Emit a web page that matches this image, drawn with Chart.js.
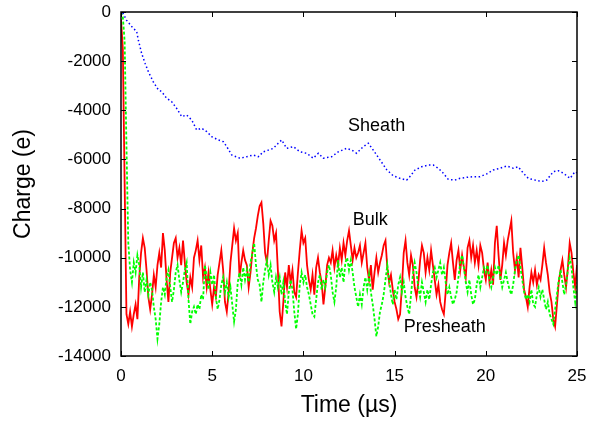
<!DOCTYPE html>
<html>
<head>
<meta charset="utf-8">
<script src="https://cdn.jsdelivr.net/npm/chart.js@4/dist/chart.umd.min.js"></script>
<style>
  html, body { margin: 0; padding: 0; background: #fff; }
  #wrap { width: 593px; height: 425px; }
</style>
</head>
<body>
<div id="wrap"><canvas id="chart"></canvas></div>
<script>
// sampling step of the bulk / presheath records (microseconds)
const sampleStep = 0.1;

const bulkValues = [
  -300, -1500, -7000, -12300, -12700, -12200, -12800, -12300, -11900, -12500,
  -10800, -9800, -9200, -9600, -10500, -11600, -12100, -11500, -10700, -11200,
  -10300, -9800, -10400, -9000, -9700, -10900, -11800, -10600, -10000, -9400,
  -9200, -10000, -9600, -10300, -9300, -10200, -11000, -11500, -10800, -11200,
  -10000, -9700, -9300, -10100, -9500, -10800, -10400, -11200, -10600, -11300,
  -11900, -11200, -11600, -10700, -10200, -9700, -10500, -11800, -12200, -11400,
  -10200, -9500, -8800, -9300, -9000, -10800, -10200, -9700, -10100, -10300,
  -11200, -10600, -9800, -9200, -8800, -8300, -7900, -7750, -8600, -9800,
  -10200, -9300, -8500, -8700, -9300, -9000, -10500, -12200, -12800, -11800,
  -10600, -11200, -10300, -11000, -10500, -11400, -11600, -10600, -9700, -8900,
  -9400, -9200, -10300, -10900, -11300, -10700, -11500, -10400, -10000, -10600,
  -11000, -11900, -11200, -10300, -10000, -10200, -9700, -10400, -9900, -10300,
  -9600, -10100, -9400, -9900, -9300, -8900, -9500, -10100, -9600, -10000,
  -9800, -9500, -10200, -9800, -9400, -10400, -10900, -10300, -11300, -10600,
  -10000, -10600, -10200, -9900, -9500, -9300, -10400, -11000, -10700, -11300,
  -11800, -12100, -12500, -12300, -11200, -9800, -9300, -10200, -10700, -9900,
  -10300, -11200, -11600, -11000, -10100, -9500, -9800, -10600, -10000, -10500,
  -9700, -10300, -10900, -11500, -11100, -11800, -12100, -12300, -11400, -10300,
  -9800, -9400, -10200, -10900, -10100, -9700, -10500, -9900, -10400, -10800,
  -9600, -9300, -10000, -9500, -10200, -9700, -10300, -9500, -9800, -10500,
  -10900, -10200, -11000, -10500, -11100, -9400, -8700, -9900, -10900, -10300,
  -9400, -9900, -9300, -8900, -8500, -9800, -10500, -10000, -10800, -9600,
  -10400, -11300, -11600, -12000, -11200, -10600, -11000, -10500, -11100, -10700,
  -10900, -10300, -9600, -10200, -10700, -11400, -11800, -12500, -12800, -11900,
  -11000, -10500, -10100, -10700, -11200, -10400, -9400, -9800, -10600, -11200,
  -10300
];

const presheathValues = [
  0, -200, -1200, -5500, -9400, -10500, -11000, -10200, -10600, -9900,
  -10300, -11200, -10600, -11400, -10900, -11500, -11000, -11300, -12000, -12500,
  -13300, -12700, -11800, -11200, -11500, -10800, -10500, -11200, -11800, -11300,
  -10600, -10300, -10900, -11400, -11000, -10500, -10200, -11700, -12700, -12200,
  -12000, -12300, -11900, -12100, -11500, -11700, -10300, -10800, -11300, -10600,
  -11100, -10700, -11600, -12100, -11700, -11100, -10800, -11400, -11000, -11600,
  -11200, -11900, -12600, -12100, -11000, -10600, -11100, -10400, -10900, -10500,
  -11000, -10200, -9800, -9400, -10300, -10900, -11100, -11800, -11000, -10500,
  -10100, -10700, -10300, -11000, -11400, -10800, -11200, -10800, -11500, -11000,
  -11800, -12300, -11400, -10900, -11300, -12200, -12900, -12300, -11100, -10600,
  -11000, -10700, -11200, -11500, -11900, -12300, -12400, -11700, -11000, -10700,
  -11300, -10900, -11200, -10600, -10300, -10700, -11400, -11800, -11200, -10100,
  -10800, -10400, -11000, -10200, -10000, -10500, -10100, -10600, -11200, -11600,
  -12000, -11500, -11900, -11200, -10800, -11300, -10700, -11400, -11900, -12500,
  -13200, -12800, -12200, -11900, -11500, -10900, -10300, -10900, -11500, -11900,
  -11300, -11700, -11100, -10800, -11400, -11000, -11600, -12000, -12300, -11500,
  -10700, -10200, -10600, -11200, -11600, -11000, -11400, -11800, -11300, -11700,
  -11100, -10600, -10400, -10800, -10500, -10200, -10700, -10400, -11000, -11500,
  -11200, -11600, -11900, -11700, -11400, -10800, -10200, -9900, -10400, -11000,
  -11400, -10900, -11500, -11900, -11700, -11100, -10700, -11200, -10800, -10400,
  -10600, -10300, -10900, -11200, -10800, -10400, -10700, -10300, -10800, -11200,
  -10900, -10600, -11000, -11300, -11500, -11100, -10500, -10100, -9900, -10400,
  -10900, -11400, -11700, -11500, -11800, -11300, -11900, -12000, -11500, -11200,
  -11600, -11300, -11700, -12100, -11800, -12300, -12500, -12700, -12100, -11500,
  -10900, -10500, -11000, -11500, -11100, -10500, -10000, -10400, -11200, -11800,
  -11000
];

const sheathTimes = [
  0.1, 0.3, 0.6, 0.86, 0.95, 1.13, 1.32, 1.5, 1.77, 2.05,
  2.23, 2.5, 2.78, 3.05, 3.33, 3.6, 3.88, 4.15, 4.42, 4.7,
  4.97, 5.34, 5.61, 5.8, 6.07, 6.52, 6.89, 7.25, 7.53, 7.8,
  8.08, 8.35, 8.62, 8.81, 9.08, 9.45, 9.81, 10.18, 10.54, 10.82,
  11.09, 11.55, 11.91, 12.37, 12.65, 12.92, 13.28, 13.56, 13.83, 14.2,
  14.57, 14.93, 15.3, 15.66, 15.84, 16.12, 16.48, 16.85, 17.12, 17.4,
  17.67, 17.94, 18.31, 18.59, 18.95, 19.32, 19.68, 20.05, 20.41, 20.78,
  21.15, 21.51, 21.78, 22.06, 22.33, 22.7, 23.06, 23.34, 23.7, 23.98,
  24.25, 24.62, 24.89, 25
];
const sheathValues = [
  -30, -330, -600, -800, -1140, -1680, -2090, -2430, -2840, -3170,
  -3240, -3510, -3650, -3920, -4260, -4190, -4400, -4800, -4730, -4870,
  -5070, -5210, -5280, -5480, -5820, -5950, -5890, -5820, -5890, -5690,
  -5620, -5550, -5340, -5210, -5550, -5480, -5690, -5750, -5950, -5750,
  -5950, -5890, -5690, -5550, -5620, -5750, -5480, -5340, -5620, -6020,
  -6420, -6670, -6770, -6840, -6700, -6430, -6300, -6230, -6230, -6360,
  -6560, -6810, -6840, -6770, -6730, -6700, -6700, -6590, -6430, -6360,
  -6270, -6360, -6300, -6560, -6770, -6840, -6900, -6840, -6500, -6460,
  -6560, -6770, -6500, -6550
];

const xTicks = [0, 5, 10, 15, 20, 25];
const yTicks = [0, -2000, -4000, -6000, -8000, -10000, -12000, -14000];

// curve labels: [text, time, charge]
const curveLabels = [
  ['Sheath', 12.45, -4640],
  ['Bulk', 12.7, -8470],
  ['Presheath', 15.5, -12820]
];

const fontFamily = '"Liberation Sans", Arial, Helvetica, sans-serif';

const bulkData = bulkValues.map((v, i) => ({ x: i * sampleStep, y: v }));
const presheathData = presheathValues.map((v, i) => ({ x: i * sampleStep, y: v }));
const sheathData = sheathValues.map((v, i) => ({ x: sheathTimes[i], y: v }));

// frame with inward ticks on all four sides, plus the curve names
const framePlugin = {
  id: 'frame',
  afterDatasetsDraw(chart) {
    const { ctx, chartArea: a, scales } = chart;
    const len = 5;
    ctx.save();
    ctx.strokeStyle = '#000';
    ctx.lineWidth = 1;
    ctx.beginPath();
    xTicks.forEach(t => {
      const px = Math.round(scales.x.getPixelForValue(t)) + 0.5;
      ctx.moveTo(px, a.bottom); ctx.lineTo(px, a.bottom - len);
      ctx.moveTo(px, a.top); ctx.lineTo(px, a.top + len);
    });
    yTicks.forEach(t => {
      const py = Math.round(scales.y.getPixelForValue(t)) + 0.5;
      ctx.moveTo(a.left, py); ctx.lineTo(a.left + len, py);
      ctx.moveTo(a.right, py); ctx.lineTo(a.right - len, py);
    });
    ctx.stroke();
    ctx.lineWidth = 1.5;
    ctx.strokeRect(a.left, a.top, a.right - a.left, a.bottom - a.top);

    ctx.fillStyle = '#000';
    ctx.font = '18px ' + fontFamily;
    ctx.textAlign = 'left';
    ctx.textBaseline = 'middle';
    curveLabels.forEach(([text, t, q]) => {
      ctx.fillText(text, scales.x.getPixelForValue(t), scales.y.getPixelForValue(q));
    });
    ctx.restore();
  }
};

new Chart(document.getElementById('chart'), {
  type: 'line',
  data: {
    datasets: [
      {
        label: 'Sheath',
        data: sheathData,
        borderColor: '#0000ff',
        borderWidth: 1.5,
        borderDash: [1.5, 2.5],
        pointRadius: 0,
        order: 0
      },
      {
        label: 'Presheath',
        data: presheathData,
        borderColor: '#00ff00',
        borderWidth: 1.8,
        borderDash: [3, 2],
        pointRadius: 0,
        order: 1
      },
      {
        label: 'Bulk',
        data: bulkData,
        borderColor: '#ff0000',
        borderWidth: 1.8,
        pointRadius: 0,
        order: 2
      }
    ]
  },
  options: {
    responsive: true,
    maintainAspectRatio: false,
    animation: false,
    layout: { padding: { top: 12, right: 16, left: 0, bottom: 0 } },
    plugins: {
      legend: { display: false },
      tooltip: { enabled: false }
    },
    scales: {
      x: {
        type: 'linear',
        min: 0,
        max: 25,
        grid: { display: false, drawTicks: false },
        border: { display: false },
        afterBuildTicks: scale => { scale.ticks = xTicks.map(v => ({ value: v })); },
        afterFit: scale => {
          scale.height = 69;
          scale.paddingLeft = 0;
          scale.paddingRight = 0;
        },
        ticks: {
          color: '#000',
          padding: 10,
          maxRotation: 0,
          font: { family: fontFamily, size: 17 }
        },
        title: {
          display: true,
          text: 'Time (\u00b5s)',
          color: '#000',
          padding: { top: 0, bottom: 6 },
          font: { family: fontFamily, size: 23 }
        }
      },
      y: {
        min: -14000,
        max: 0,
        grid: { display: false, drawTicks: false },
        border: { display: false },
        afterBuildTicks: scale => { scale.ticks = yTicks.map(v => ({ value: v })); },
        afterFit: scale => {
          scale.width = 121;
          scale.paddingTop = 0;
          scale.paddingBottom = 0;
        },
        ticks: {
          color: '#000',
          padding: 10,
          font: { family: fontFamily, size: 17 },
          callback: v => String(v)
        },
        title: {
          display: true,
          text: 'Charge (e)',
          color: '#000',
          padding: { top: 10, bottom: 0 },
          font: { family: fontFamily, size: 23 }
        }
      }
    }
  },
  plugins: [framePlugin]
});
</script>
</body>
</html>
